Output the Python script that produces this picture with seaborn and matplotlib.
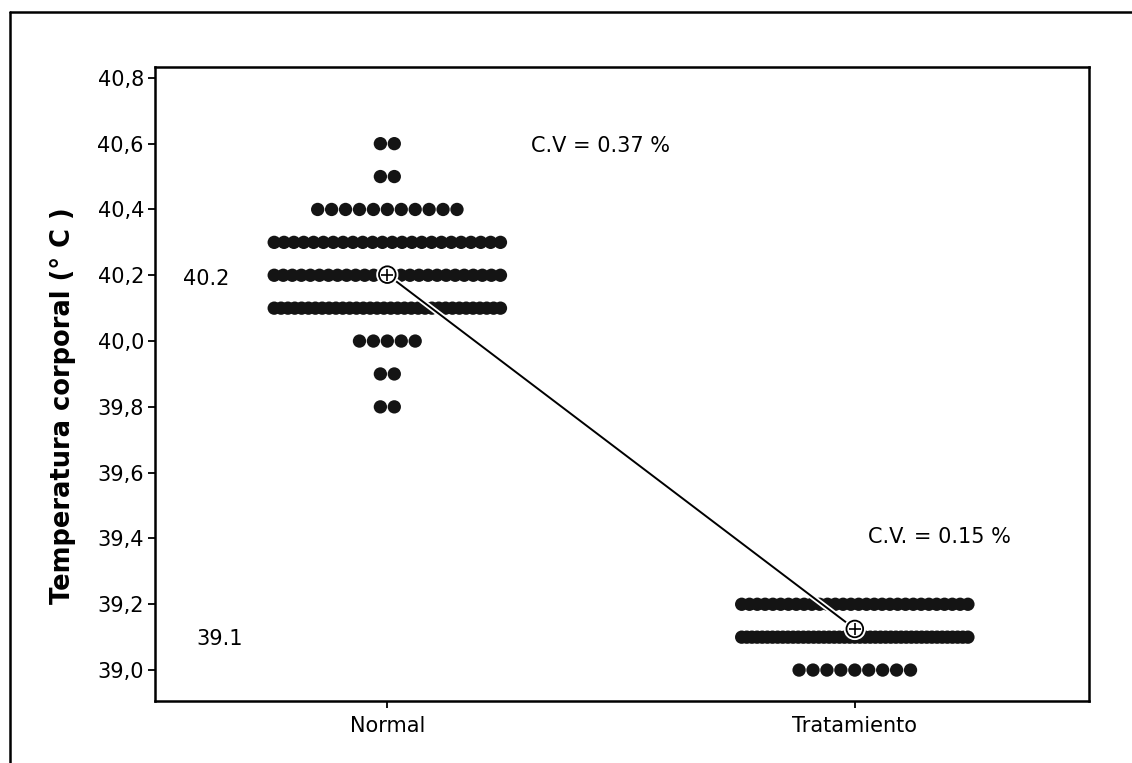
import numpy as np
import pandas as pd
import matplotlib
matplotlib.use("Agg")
import matplotlib.pyplot as plt
import matplotlib.patheffects as pe
from matplotlib.lines import Line2D
from matplotlib.ticker import FuncFormatter
import seaborn as sns

# ---- data ----
groups = ["Normal", "Tratamiento"]
normal_values = [40.6, 40.5, 40.4, 40.3, 40.2, 40.1, 40.0, 39.9, 39.8]
normal_counts = [2, 2, 11, 24, 26, 34, 5, 2, 2]
trat_values = [39.2, 39.1, 39.0]
trat_counts = [30, 45, 9]
yticks = [39.0, 39.2, 39.4, 39.6, 39.8, 40.0, 40.2, 40.4, 40.6, 40.8]
mean_labels = ["40.2", "39.1"]
cv_labels = ["C.V = 0.37 %", "C.V. = 0.15 %"]

sns.set_theme(style="white")
plt.rcParams["font.family"] = ["DejaVu Sans"]
plt.rcParams["text.color"] = "black"
plt.rcParams["xtick.color"] = "black"
plt.rcParams["ytick.color"] = "black"
plt.rcParams["axes.labelcolor"] = "black"

rows = []
for gi, (vals, cnts) in enumerate([(normal_values, normal_counts), (trat_values, trat_counts)]):
    for v, c in zip(vals, cnts):
        rows += [{"grupo": groups[gi], "pos": gi, "temp": v}] * c
df = pd.DataFrame(rows)

# dot-plot style stacking: side by side within each value row
full_step = 0.0298
max_half = 0.242
xs = np.zeros(len(df))
for (g, v), idx in df.groupby(["pos", "temp"]).groups.items():
    n = len(idx)
    step = full_step if n <= 1 else min(full_step, 2 * max_half / (n - 1))
    offs = (np.arange(n) - (n - 1) / 2) * step
    xs[np.asarray(list(idx))] = g + offs
df["xj"] = xs

fig = plt.figure(figsize=(11.32, 7.63), dpi=100)
ax = fig.add_axes([155 / 1132, 1 - 701 / 763, (1089 - 155) / 1132, (701 - 67) / 763])

sns.scatterplot(data=df, x="xj", y="temp", ax=ax, color="#141414", s=92,
                edgecolor="none", linewidth=0, zorder=2, legend=False)

sns.pointplot(data=df, x="pos", y="temp", native_scale=True, estimator="mean",
              errorbar=None, color="black", ax=ax, markers="o",
              markersize=12, markerfacecolor="white", markeredgecolor="black",
              markeredgewidth=1.3, linewidth=1.4, zorder=4,
              path_effects=[pe.Stroke(linewidth=4, foreground="white"), pe.Normal()])

means = df.groupby("pos", as_index=False)["temp"].mean()
sns.scatterplot(data=means, x="pos", y="temp", ax=ax, marker="+", s=80,
                color="black", linewidth=1.2, zorder=5, legend=False)

ax.set_xlim(-0.497, 1.501)
ax.set_ylim(38.906, 40.833)
ax.set_xticks([0, 1])
ax.set_xticklabels(groups, fontsize=15)
ax.set_yticks(yticks)
ax.yaxis.set_major_formatter(FuncFormatter(lambda v, p: f"{v:.1f}".replace(".", ",")))
ax.tick_params(axis="y", labelsize=15, length=5, width=1.3, direction="out",
               left=True, color="black", labelcolor="black", pad=3)
ax.tick_params(axis="x", length=5, width=1.3, direction="out", bottom=True,
               color="black", labelcolor="black", pad=6)
ax.set_xlabel("")
ax.set_ylabel("")
for s in ax.spines.values():
    s.set_color("black")
    s.set_linewidth(1.8)
ax.grid(False)

fig.text(63 / 1132, 1 - 406 / 763, "Temperatura corporal (° C )", rotation=90,
         ha="center", va="center", fontsize=18.5, fontweight="bold", color="black")

ax.text(-0.388, 40.19, mean_labels[0], ha="center", va="center", fontsize=15, color="black")
ax.text(-0.358, 39.095, mean_labels[1], ha="center", va="center", fontsize=15, color="black")
ax.text(0.456, 40.593, cv_labels[0], ha="center", va="center", fontsize=15, color="black")
ax.text(1.18, 39.405, cv_labels[1], ha="center", va="center", fontsize=15, color="black")

# outer frame (left and top edges visible)
fig.add_artist(Line2D([10 / 1132, 10 / 1132], [0, 1 - 12 / 763], color="black", lw=1.8,
                      transform=fig.transFigure))
fig.add_artist(Line2D([10 / 1132, 1], [1 - 12 / 763, 1 - 12 / 763], color="black", lw=1.8,
                      transform=fig.transFigure))

fig.savefig("out.png", dpi=100)
